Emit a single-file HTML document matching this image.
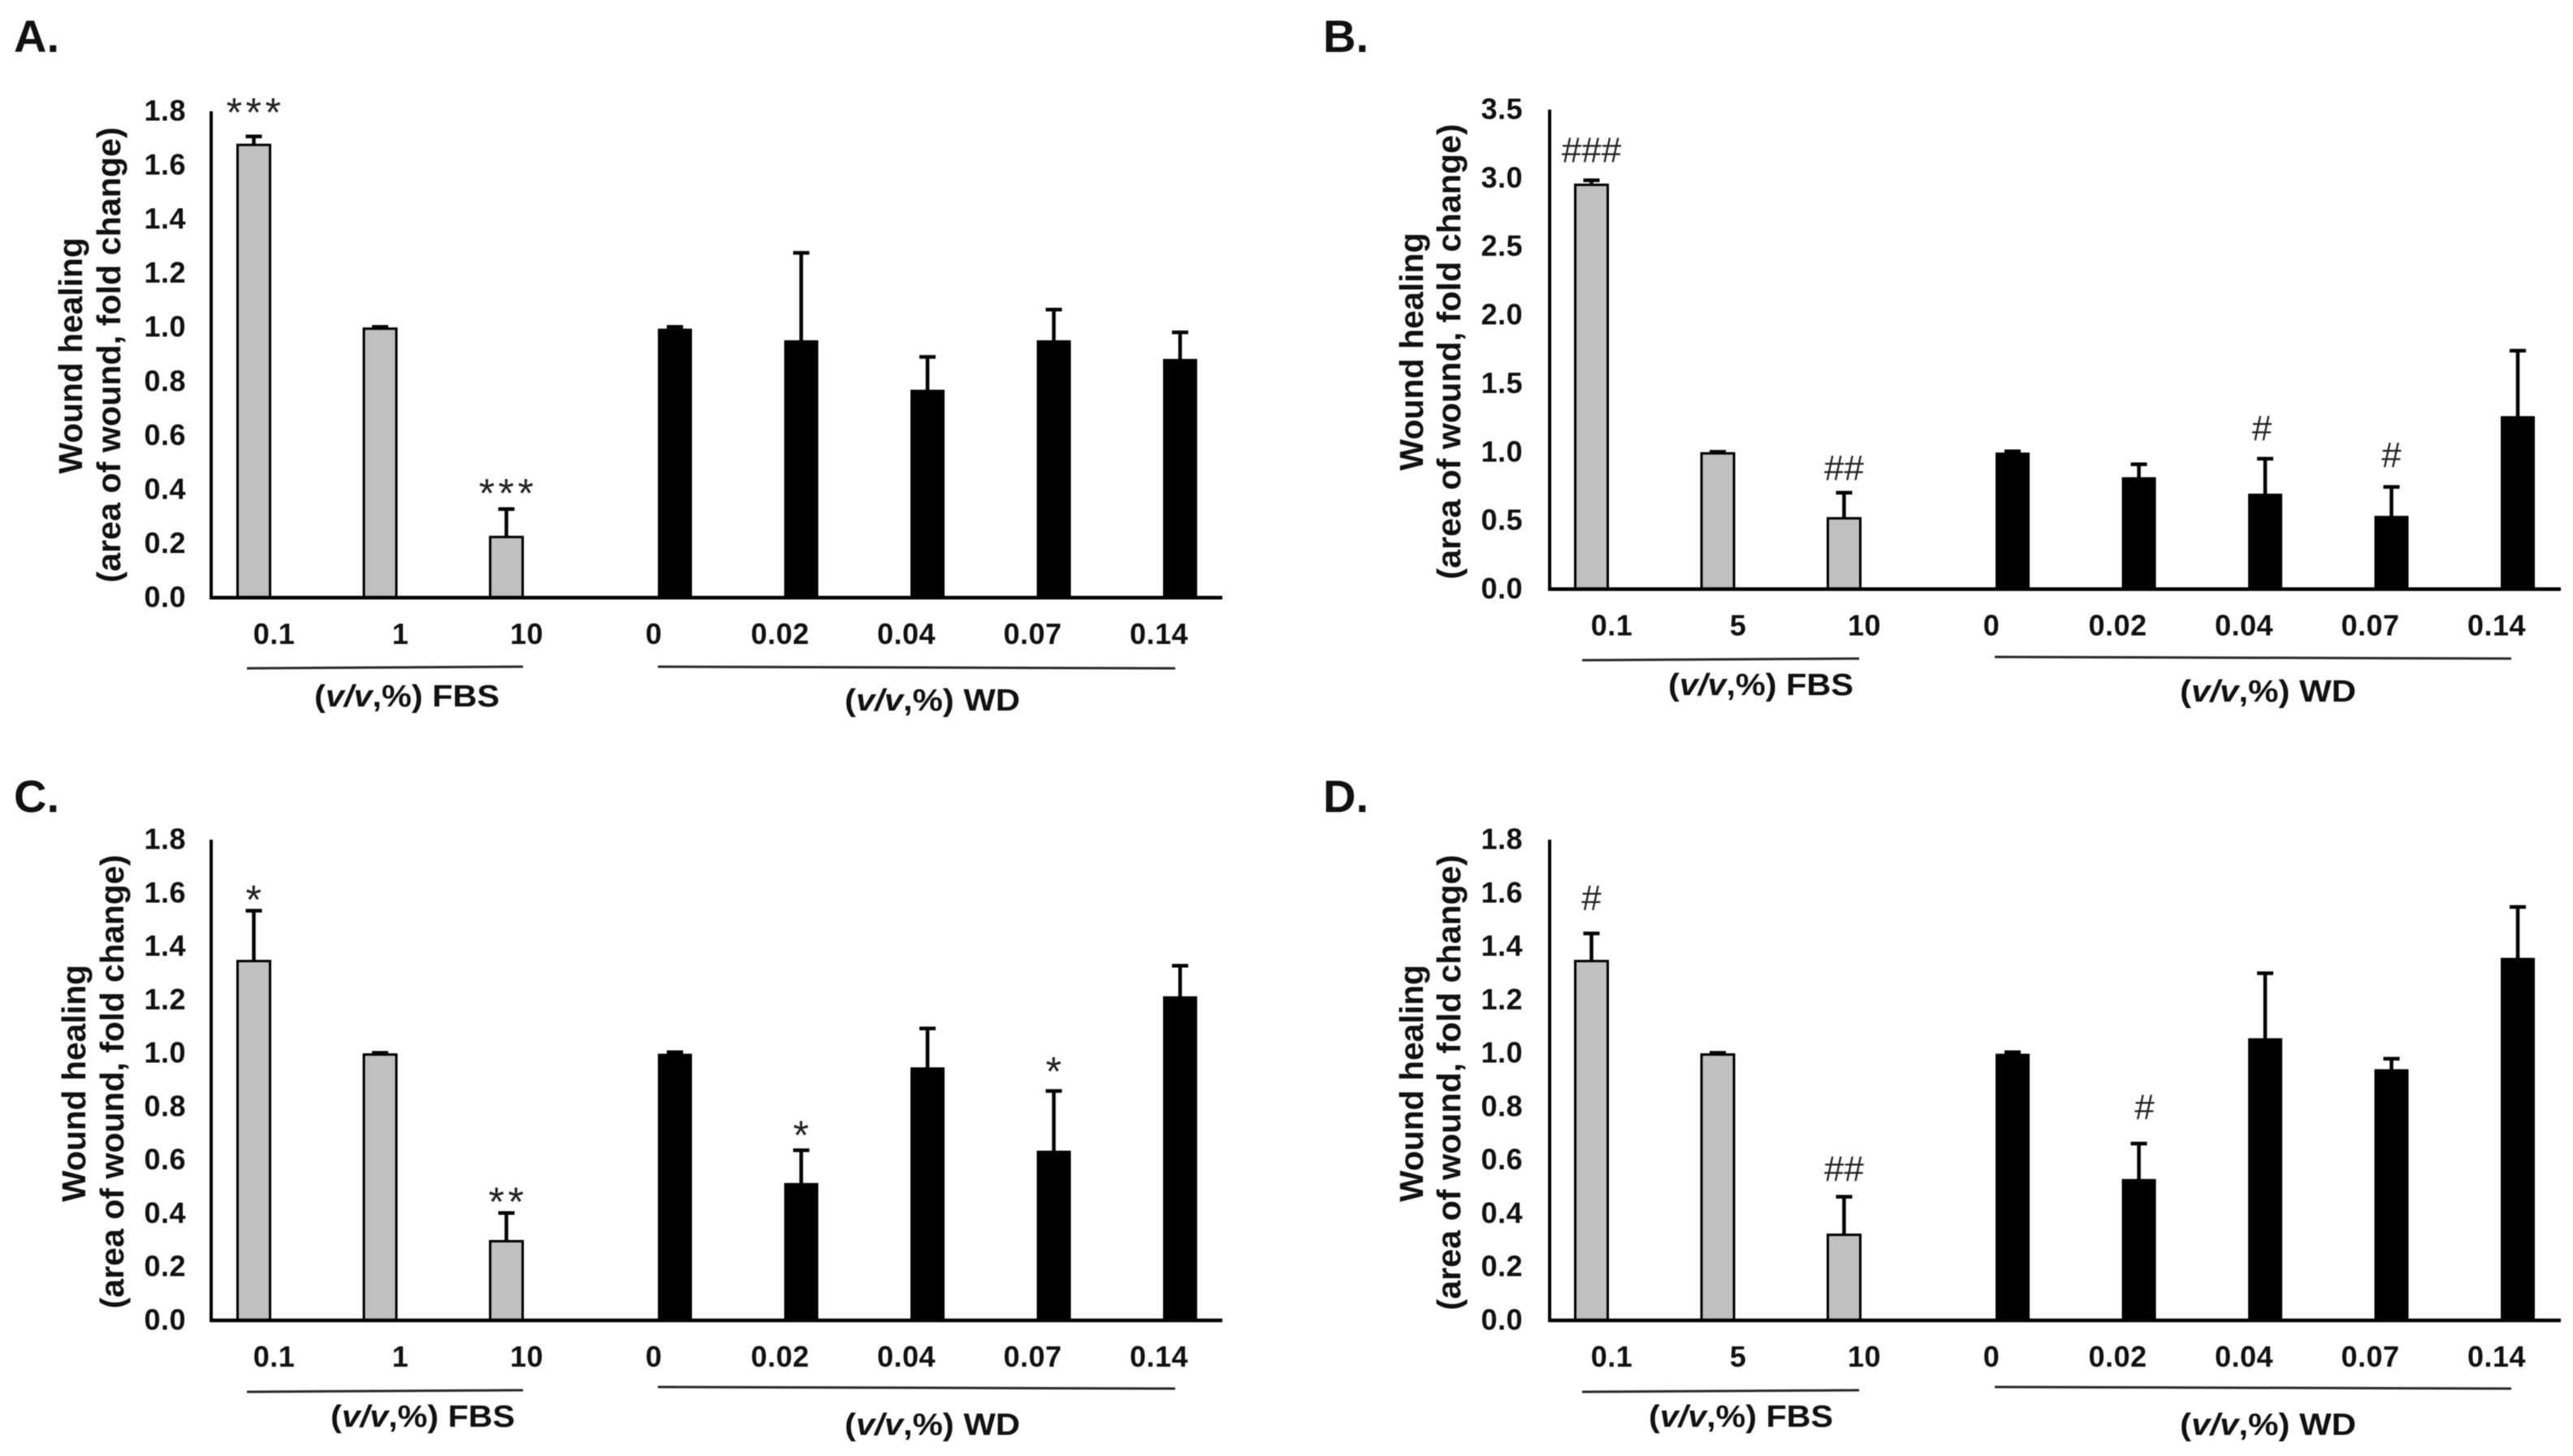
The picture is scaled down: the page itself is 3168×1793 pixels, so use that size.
<!DOCTYPE html>
<html lang="en">
<head>
<meta charset="utf-8">
<title>Wound healing bar charts</title>
<style>
  html, body { margin: 0; padding: 0; background: #fff; }
  svg { display: block; filter: blur(0.5px); }
  text { font-family: "Liberation Sans", Arial, sans-serif; fill: #000; }
  .panel-label { font-size: 56px; font-weight: bold; fill: #111; }
  .y-title { font-size: 41px; font-weight: bold; text-anchor: middle; fill: #111; }
  .group-title { font-size: 38px; font-weight: bold; fill: #111; }
  .tick { font-size: 36px; font-weight: bold; letter-spacing: 0.5px; fill: #111; }
  .star { font-size: 50px; text-anchor: middle; letter-spacing: 4.5px; fill: #222; }
  .hash { font-size: 44px; text-anchor: middle; fill: #222; }
  .group-line { stroke: #2a2a2a; stroke-width: 3; fill: none; }
</style>
</head>
<body>
<svg id="figure" xmlns="http://www.w3.org/2000/svg" width="3168" height="1793" viewBox="0 0 3168 1793">
  <rect x="0" y="0" width="3168" height="1793" fill="#fff"/>

  <text class="panel-label" x="17" y="64">A.</text>
  <text class="panel-label" x="1629" y="64">B.</text>
  <text class="panel-label" x="17" y="1000">C.</text>
  <text class="panel-label" x="1629" y="1000">D.</text>

  <text class="y-title" transform="translate(101,438) rotate(-90)" textLength="291" lengthAdjust="spacingAndGlyphs">Wound healing</text>
  <text class="y-title" transform="translate(148,437) rotate(-90)" textLength="561" lengthAdjust="spacingAndGlyphs">(area of wound, fold change)</text>
  <text class="y-title" transform="translate(1752,433) rotate(-90)" textLength="293" lengthAdjust="spacingAndGlyphs">Wound healing</text>
  <text class="y-title" transform="translate(1798,433) rotate(-90)" textLength="561" lengthAdjust="spacingAndGlyphs">(area of wound, fold change)</text>
  <text class="y-title" transform="translate(105,1334) rotate(-90)" textLength="292" lengthAdjust="spacingAndGlyphs">Wound healing</text>
  <text class="y-title" transform="translate(152,1332) rotate(-90)" textLength="559" lengthAdjust="spacingAndGlyphs">(area of wound, fold change)</text>
  <text class="y-title" transform="translate(1752,1334) rotate(-90)" textLength="292" lengthAdjust="spacingAndGlyphs">Wound healing</text>
  <text class="y-title" transform="translate(1798,1333) rotate(-90)" textLength="561" lengthAdjust="spacingAndGlyphs">(area of wound, fold change)</text>

  <line class="group-line" x1="304" y1="823" x2="644" y2="821"/>
  <line class="group-line" x1="810" y1="821" x2="1447" y2="823"/>
  <text class="group-title" x="387" y="870" textLength="228" lengthAdjust="spacingAndGlyphs">(<tspan font-style="italic">v/v</tspan>,%) FBS</text>
  <text class="group-title" x="1040" y="875" textLength="216" lengthAdjust="spacingAndGlyphs">(<tspan font-style="italic">v/v</tspan>,%) WD</text>

  <line class="group-line" x1="1948" y1="813" x2="2289" y2="811"/>
  <line class="group-line" x1="2456" y1="809" x2="3092" y2="811"/>
  <text class="group-title" x="2054" y="856" textLength="228" lengthAdjust="spacingAndGlyphs">(<tspan font-style="italic">v/v</tspan>,%) FBS</text>
  <text class="group-title" x="2684" y="864" textLength="217" lengthAdjust="spacingAndGlyphs">(<tspan font-style="italic">v/v</tspan>,%) WD</text>

  <line class="group-line" x1="304" y1="1714" x2="644" y2="1712"/>
  <line class="group-line" x1="810" y1="1708" x2="1447" y2="1710"/>
  <text class="group-title" x="407" y="1757" textLength="227" lengthAdjust="spacingAndGlyphs">(<tspan font-style="italic">v/v</tspan>,%) FBS</text>
  <text class="group-title" x="1040" y="1767" textLength="216" lengthAdjust="spacingAndGlyphs">(<tspan font-style="italic">v/v</tspan>,%) WD</text>

  <line class="group-line" x1="1948" y1="1714" x2="2289" y2="1712"/>
  <line class="group-line" x1="2456" y1="1708" x2="3092" y2="1710"/>
  <text class="group-title" x="2030" y="1757" textLength="227" lengthAdjust="spacingAndGlyphs">(<tspan font-style="italic">v/v</tspan>,%) FBS</text>
  <text class="group-title" x="2684" y="1767" textLength="217" lengthAdjust="spacingAndGlyphs">(<tspan font-style="italic">v/v</tspan>,%) WD</text>
</svg>

<script>
// ---- Chart data ----
const tickLabels18 = ['0.0', '0.2', '0.4', '0.6', '0.8', '1.0', '1.2', '1.4', '1.6', '1.8'];
const tickLabels35 = ['0.0', '0.5', '1.0', '1.5', '2.0', '2.5', '3.0', '3.5'];

const categoriesAC = ['0.1', '1', '10', '0', '0.02', '0.04', '0.07', '0.14'];
const categoriesBD = ['0.1', '5', '10', '0', '0.02', '0.04', '0.07', '0.14'];

const panelAMeans = [1.68, 1.0, 0.229, 0.997, 0.954, 0.771, 0.954, 0.885];
const panelAUpper = [1.71, 1.005, 0.331, 1.005, 1.279, 0.894, 1.069, 0.985];
const panelAMarks = ['***', '', '***', '', '', '', '', ''];
const panelALevels = [1.82, 0, 0.41, 0, 0, 0, 0, 0];

const panelBMeans = [2.96, 1.0, 0.526, 1.0, 0.82, 0.70, 0.538, 1.266];
const panelBUpper = [2.99, 1.008, 0.71, 1.012, 0.917, 0.958, 0.752, 1.746];
const panelBMarks = ['###', '', '##', '', '', '#', '#', ''];
const panelBLevels = [3.2, 0, 0.88, 0, 0, 1.17, 0.975, 0];

const panelCMeans = [1.35, 1.0, 0.301, 1.0, 0.516, 0.949, 0.637, 1.215];
const panelCUpper = [1.537, 1.005, 0.405, 1.007, 0.64, 1.096, 0.862, 1.331];
const panelCMarks = ['*', '', '**', '', '*', '', '*', ''];
const panelCLevels = [1.6, 0, 0.468, 0, 0.717, 0, 0.957, 0];

const panelDMeans = [1.35, 1.0, 0.325, 1.0, 0.531, 1.058, 0.942, 1.359];
const panelDUpper = [1.452, 1.005, 0.466, 1.007, 0.665, 1.303, 0.983, 1.551];
const panelDMarks = ['#', '', '##', '', '#', '', '', ''];
const panelDLevels = [1.58, 0, 0.565, 0, 0.796, 0, 0, 0];

// ---- Drawing ----
const svgNS = 'http://www.w3.org/2000/svg';
const figure = document.getElementById('figure');

function make(tag, attrs, text) {
  const el = document.createElementNS(svgNS, tag);
  for (const key in attrs) el.setAttribute(key, attrs[key]);
  if (text !== undefined) el.textContent = text;
  figure.appendChild(el);
  return el;
}

function drawPanel(cfg) {
  const id = cfg.id;
  const yScale = function (v) { return cfg.y0 - (v / cfg.maxValue) * (cfg.y0 - cfg.top); };
  const xScale = function (i) { return cfg.firstX + i * 155.5 + (i >= 3 ? 52 : 0); };

  cfg.ticks.forEach(function (label) {
    const tick = make('text', { class: 'tick', x: cfg.tickRight, y: yScale(parseFloat(label)) + 11.5, 'text-anchor': 'end' }, label);
    
    
  });

  cfg.means.forEach(function (value, i) {
    const cx = xScale(i);
    const isFbs = i < 3;
    const label = cfg.categories[i];
    const group = isFbs ? 'fbs' : 'wd';
    const topEdge = yScale(value) + 1.5;

    const stem = make('line', { x1: cx, x2: cx, y1: topEdge, y2: yScale(cfg.upper[i]) + 1, stroke: '#000', 'stroke-width': 4.5 });
    
    

    const cap = make('line', { x1: cx - 10, x2: cx + 10, y1: yScale(cfg.upper[i]) + 1, y2: yScale(cfg.upper[i]) + 1, stroke: '#000', 'stroke-width': 4.5 });
    
    

    const bar = make('rect', {
      x: cx - 20,
      y: topEdge,
      width: 40,
      height: yScale(0) - topEdge,
      fill: isFbs ? '#c0c0c0' : '#000',
      stroke: '#000',
      'stroke-width': isFbs ? 3 : 2
    });
    
    

    const xTick = make('text', { class: 'tick', x: cx + (isFbs ? 25 : -26), y: cfg.y0 + 57, 'text-anchor': 'middle' }, label);
    
    

    const mark = cfg.marks[i];
    if (mark) {
      const isStar = mark.charAt(0) === '*';
      const sig = make('text', {
        class: isStar ? 'star' : 'hash',
        x: cx + (cfg.markShift[i] || 0) + (isStar ? 2 : 0),
        y: yScale(cfg.levels[i]) + (isStar ? 25 : 14)
      }, mark);
      
      
    }
  });

  const yAxis = make('line', { x1: cfg.axisX, x2: cfg.axisX, y1: cfg.top, y2: cfg.y0 + 2, stroke: '#000', 'stroke-width': 4 });
  
  

  const xAxis = make('line', { x1: cfg.axisX - 2, x2: cfg.right, y1: cfg.y0, y2: cfg.y0, stroke: '#000', 'stroke-width': 4.5 });
  
  
}

drawPanel({
  id: 'a', axisX: 260, right: 1505, top: 137, y0: 736, maxValue: 1.8, firstX: 312.5, tickRight: 229,
  ticks: tickLabels18, categories: categoriesAC, means: panelAMeans, upper: panelAUpper,
  marks: panelAMarks, levels: panelALevels, markShift: {}
});
drawPanel({
  id: 'b', axisX: 1908, right: 3153, top: 135, y0: 725.5, maxValue: 3.5, firstX: 1959.5, tickRight: 1875,
  ticks: tickLabels35, categories: categoriesBD, means: panelBMeans, upper: panelBUpper,
  marks: panelBMarks, levels: panelBLevels, markShift: { 5: -4 }
});
drawPanel({
  id: 'c', axisX: 260, right: 1505, top: 1034, y0: 1626, maxValue: 1.8, firstX: 312.5, tickRight: 229,
  ticks: tickLabels18, categories: categoriesAC, means: panelCMeans, upper: panelCUpper,
  marks: panelCMarks, levels: panelCLevels, markShift: {}
});
drawPanel({
  id: 'd', axisX: 1908, right: 3153, top: 1034, y0: 1626, maxValue: 1.8, firstX: 1959.5, tickRight: 1875,
  ticks: tickLabels18, categories: categoriesBD, means: panelDMeans, upper: panelDUpper,
  marks: panelDMarks, levels: panelDLevels, markShift: { 4: 7 }
});
</script>
</body>
</html>
